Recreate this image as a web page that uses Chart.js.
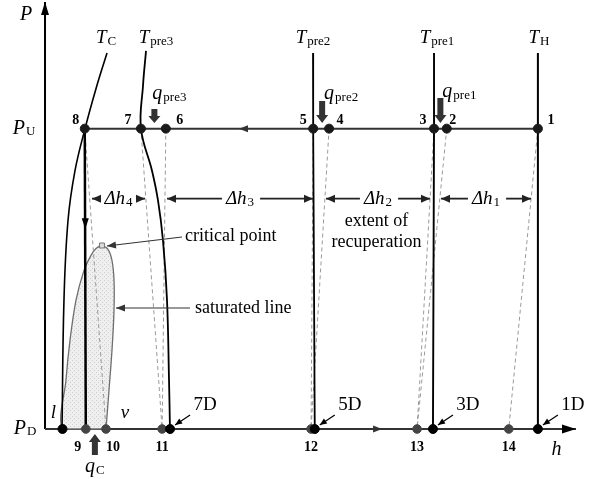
<!DOCTYPE html>
<html>
<head>
<meta charset="utf-8">
<script src="https://cdn.jsdelivr.net/npm/chart.js@4/dist/chart.umd.min.js"></script>
<style>
  html, body { margin: 0; padding: 0; background: #fff; }
  #wrap { width: 596px; height: 479px; }
</style>
</head>
<body>
<div id="wrap"><canvas id="ph" width="596" height="479"></canvas></div>
<script>
// P-h diagram (schematic units: h 0..100, P with P_D = 0 and P_U = 10)
const hMax = 100;
const pMax = 14.1;
const pU = 10;
const pD = 0;

// state points on the upper pressure line
const upperStates = ['1', '2', '3', '4', '5', '6', '7', '8'];
const upperH = [93.0, 75.8, 73.4, 53.6, 50.6, 22.8, 18.1, 7.5];
// state points on the lower pressure line
const lowerStates = ['9', '10', '11', '12', '13', '14'];
const lowerH = [7.7, 11.5, 22.1, 50.2, 70.2, 87.5];
const dischargeStates = ['7D', '5D', '3D', '1D'];
const dischargeH = [23.6, 50.9, 73.2, 93.0];
const liquidH = 3.3;

// isotherms
const tcH = [11.70, 9.62, 7.55, 5.66, 4.34, 3.58, 3.21];
const tcP = [12.52, 11.33, 10, 8.60, 6.94, 4.29, 0];
const tpre3H = [19.06, 18.49, 18.11, 20.19, 21.32, 22.26, 23.02, 23.40, 23.58];
const tpre3P = [12.59, 11.43, 10, 8.60, 7.61, 6.28, 4.29, 1.63, 0];
const isoTopP = 12.52;
const tpre2H = [50.57, 50.6, 50.9];
const tpre1H = [73.4, 73.4, 73.2];
const thH = [93.0, 93.0, 93.0];

// expansion lines (from upper state to lower state)
const expansionPairs = [['8', '10'], ['7', '11'], ['6', '11'], ['5', '12'], ['4', '12'], ['3', '13'], ['2', '13'], ['1', '14']];

// saturation dome
const domeH = [11.51, 12.08, 12.64, 13.02, 13.02, 12.64, 11.89, 10.75, 9.62, 8.68, 7.36, 5.85, 4.72, 3.96, 3.40, 11.51];
const domeP = [0, 1.30, 2.62, 3.95, 4.95, 5.61, 5.98, 6.10, 6.01, 5.78, 5.28, 4.29, 2.96, 1.63, 0, 0];
const critH = 10.75;
const critP = 6.11;

// enthalpy differences
const deltaNames = ['4', '3', '2', '1'];
const deltaFrom = [8.87, 23.02, 53.02, 74.72];
const deltaTo = [18.87, 50.57, 72.64, 91.70];
const deltaP = 7.67;

const serif = '"Liberation Serif", "DejaVu Serif", serif';

function pts(hs, ps) {
    return hs.map((h, i) => ({ x: h, y: ps[i] }));
}
function hOf(name) {
    let i = upperStates.indexOf(name);
    if (i >= 0) return { x: upperH[i], y: pU };
    i = lowerStates.indexOf(name);
    return { x: lowerH[i], y: pD };
}

// stipple pattern for the two-phase region
const patCanvas = document.createElement('canvas');
patCanvas.width = 4; patCanvas.height = 4;
const pctx = patCanvas.getContext('2d');
pctx.fillStyle = '#efefef';
pctx.fillRect(0, 0, 4, 4);
pctx.fillStyle = '#cdcdcd';
pctx.fillRect(0, 0, 1, 1);
pctx.fillRect(2, 2, 1, 1);
const ctx = document.getElementById('ph').getContext('2d');
const stipple = ctx.createPattern(patCanvas, 'repeat');

const lineDs = (data, color, width, extra) => Object.assign({
    data: data, showLine: true, borderColor: color, borderWidth: width,
    pointRadius: 0, fill: false, clip: false, tension: 0
}, extra || {});

const datasets = [];

// points first (lowest order = on top)
datasets.push({
    data: upperH.map(h => ({ x: h, y: pU })),
    pointRadius: 4.5, backgroundColor: '#1a1a1a', borderColor: '#1a1a1a', clip: false, order: 0
});
datasets.push({
    data: lowerH.map(h => ({ x: h, y: pD })),
    pointRadius: 4.3, backgroundColor: '#444', borderColor: '#444', clip: false, order: 1
});
datasets.push({
    data: dischargeH.map(h => ({ x: h, y: pD })).concat([{ x: liquidH, y: pD }]),
    pointRadius: 4.5, backgroundColor: '#000', borderColor: '#000', clip: false, order: 0
});
datasets.push({
    data: [{ x: critH, y: critP }],
    pointStyle: 'rect', pointRadius: 3.5, backgroundColor: '#ddd', borderColor: '#777', borderWidth: 1, clip: false, order: 0
});

// upper pressure line and 8 -> 9
datasets.push(lineDs([{ x: upperH[7], y: pU }, { x: upperH[0], y: pU }], '#333', 2, { order: 3 }));
datasets.push(lineDs([{ x: upperH[7], y: pU }, { x: lowerH[0], y: pD }], '#000', 2.5, { order: 3 }));

// isotherms
datasets.push(lineDs(pts(tcH, tcP), '#000', 1.6, { tension: 0.4, order: 4 }));
datasets.push(lineDs(pts(tpre3H, tpre3P), '#000', 1.8, { tension: 0.4, order: 4 }));
datasets.push(lineDs(pts(tpre2H, [isoTopP, pU, pD]), '#000', 1.8, { order: 4 }));
datasets.push(lineDs(pts(tpre1H, [isoTopP, pU, pD]), '#000', 1.9, { order: 4 }));
datasets.push(lineDs(pts(thH, [isoTopP, pU, pD]), '#000', 2, { order: 4 }));

// expansion lines
expansionPairs.forEach(pair => {
    datasets.push(lineDs([hOf(pair[0]), hOf(pair[1])], '#9a9a9a', 1, { borderDash: [4, 3], order: 6 }));
});

// dome
datasets.push(lineDs(pts(domeH, domeP), '#6e6e6e', 1.3, {
    fill: 'shape', backgroundColor: stipple, tension: 0.3, order: 9
}));

function arrowHead(c, x, y, ang, len, half) {
    c.beginPath();
    c.moveTo(x, y);
    c.lineTo(x - len * Math.cos(ang) + half * Math.sin(ang), y - len * Math.sin(ang) - half * Math.cos(ang));
    c.lineTo(x - len * Math.cos(ang) - half * Math.sin(ang), y - len * Math.sin(ang) + half * Math.cos(ang));
    c.closePath();
    c.fill();
}
function arrowLine(c, x1, y1, x2, y2, lw, len, half) {
    c.lineWidth = lw;
    c.beginPath();
    c.moveTo(x1, y1);
    c.lineTo(x2, y2);
    c.stroke();
    arrowHead(c, x2, y2, Math.atan2(y2 - y1, x2 - x1), len, half);
}
function blockArrow(c, x, y1, y2, shaft, head, headLen) {
    // y1 tail, y2 tip (vertical)
    const d = y2 > y1 ? 1 : -1;
    const yb = y2 - d * headLen;
    c.beginPath();
    c.moveTo(x - shaft / 2, y1);
    c.lineTo(x + shaft / 2, y1);
    c.lineTo(x + shaft / 2, yb);
    c.lineTo(x + head / 2, yb);
    c.lineTo(x, y2);
    c.lineTo(x - head / 2, yb);
    c.lineTo(x - shaft / 2, yb);
    c.closePath();
    c.fill();
}
// main text with subscript, centred at cx
function subText(c, main, sub, cx, cy, size, italicMain, subSize, subDy) {
    const mf = (italicMain ? 'italic ' : '') + size + 'px ' + serif;
    const sf = subSize + 'px ' + serif;
    c.font = mf;
    const w1 = c.measureText(main).width;
    c.font = sf;
    const w2 = c.measureText(sub).width;
    const x0 = cx - (w1 + w2 + 1) / 2;
    c.textAlign = 'left';
    c.textBaseline = 'middle';
    c.font = mf;
    c.fillText(main, x0, cy);
    c.font = sf;
    c.fillText(sub, x0 + w1 + 1, cy + subDy);
    return w1 + w2 + 1;
}

const annotations = {
    id: 'annotations',
    beforeDatasetsDraw(chart) {
        const c = chart.ctx, xs = chart.scales.x, ys = chart.scales.y;
        const x0 = xs.getPixelForValue(0), y0 = ys.getPixelForValue(pD);
        c.save();
        c.fillStyle = '#000';
        c.strokeStyle = '#000';
        // P axis
        arrowLine(c, x0, y0, x0, 2, 2, 13, 4);
        // h axis (lower pressure line)
        c.strokeStyle = '#333';
        c.fillStyle = '#000';
        arrowLine(c, x0, y0, chart.chartArea.right + 1, y0, 2, 14, 4.5);
        c.restore();
    },
    afterDatasetsDraw(chart) {
        const c = chart.ctx, xs = chart.scales.x, ys = chart.scales.y;
        const X = v => xs.getPixelForValue(v), Y = v => ys.getPixelForValue(v);
        c.save();
        c.fillStyle = '#000';
        c.strokeStyle = '#000';

        // flow arrows along the lines
        c.fillStyle = '#333';
        arrowHead(c, X(36.6), Y(pU), Math.PI, 9, 3.5);
        arrowHead(c, X(63.6), Y(pD), 0, 9, 3.5);
        c.fillStyle = '#000';
        arrowHead(c, X(upperH[7] + 0.1), Y(6.65), Math.PI / 2, 11, 3.5);

        // axis labels
        c.fillStyle = '#000';
        c.textAlign = 'center';
        c.textBaseline = 'middle';
        c.font = 'italic 20px ' + serif;
        c.fillText('P', 26, 15);
        c.fillText('h', X(96.5), Y(pD) + 21);
        subText(c, 'P', 'U', 24, Y(pU), 20, true, 13, 3);
        subText(c, 'P', 'D', 25, Y(pD), 20, true, 13, 3);

        // isotherm labels
        const topY = 38;
        subText(c, 'T', 'C', X(tcH[0]) - 1, topY, 19, true, 13, 4);
        subText(c, 'T', 'pre3', X(tpre3H[0]) + 10, topY, 19, true, 13, 4);
        subText(c, 'T', 'pre2', X(tpre2H[0]), topY, 19, true, 13, 4);
        subText(c, 'T', 'pre1', X(tpre1H[0]) + 3, topY, 19, true, 13, 4);
        subText(c, 'T', 'H', X(thH[0]) + 1, topY, 19, true, 13, 4);

        // heat input arrows
        c.fillStyle = '#333';
        const q3x = (X(upperH[6]) + X(upperH[5])) / 2 + 1;
        const q2x = (X(upperH[4]) + X(upperH[3])) / 2 + 1;
        const q1x = (X(upperH[2]) + X(upperH[1])) / 2;
        blockArrow(c, q3x, 109, 123, 6, 12, 7);
        blockArrow(c, q2x, 101, 123, 6, 12, 8);
        blockArrow(c, q1x, 98, 123, 6, 12, 8);
        const qcx = (X(lowerH[0]) + X(lowerH[1])) / 2 - 1;
        blockArrow(c, qcx, 455, 434, 6, 12, 8);
        c.fillStyle = '#000';
        subText(c, 'q', 'pre3', q3x + 15, 94, 20, true, 13, 4);
        subText(c, 'q', 'pre2', q2x + 19, 94, 20, true, 13, 4);
        subText(c, 'q', 'pre1', q1x + 19, 92, 20, true, 13, 4);
        subText(c, 'q', 'C', qcx, 467, 20, true, 13, 4);

        // state numbers
        const upperDx = [13, 6, -11, 11, -10, 14, -13, -9];
        c.font = 'bold 14px ' + serif;
        c.textAlign = 'center';
        c.textBaseline = 'middle';
        upperStates.forEach((s, i) => c.fillText(s, X(upperH[i]) + upperDx[i], Y(pU) - 8));
        const lowerDx = [-8, 7, 0, 0, 0, 0];
        lowerStates.forEach((s, i) => c.fillText(s, X(lowerH[i]) + lowerDx[i], Y(pD) + 18));

        // discharge labels with pointers
        c.font = '19px ' + serif;
        dischargeStates.forEach((s, i) => {
            const px = X(dischargeH[i]), py = Y(pD);
            c.fillText(s, px + 35, py - 24);
            arrowLine(c, px + 20, py - 14, px + 5, py - 4, 1.3, 7, 3);
        });
        c.font = 'italic 19px ' + serif;
        c.fillText('l', X(liquidH) - 9, Y(pD) - 16);
        c.fillText('v', X(lowerH[1]) + 19, Y(pD) - 16);

        // delta h spans
        c.strokeStyle = '#222';
        c.fillStyle = '#222';
        deltaNames.forEach((n, i) => {
            const L = X(deltaFrom[i]), R = X(deltaTo[i]), yy = Y(deltaP);
            const cx = (L + R) / 2;
            c.fillStyle = '#000';
            const w = subText(c, 'Δh', n, cx, yy, 19, true, 13, 4);
            c.fillStyle = '#222';
            arrowLine(c, cx - w / 2 - 4, yy, L, yy, 1.8, 9, 4);
            arrowLine(c, cx + w / 2 + 6, yy, R, yy, 1.8, 9, 4);
        });

        // text annotations
        c.fillStyle = '#000';
        c.font = '18px ' + serif;
        c.textAlign = 'center';
        const midR = (X(upperH[3]) + X(upperH[2])) / 2 - 5;
        c.fillText('extent of', midR, Y(deltaP) + 23);
        c.fillText('recuperation', midR, Y(deltaP) + 44);

        c.textAlign = 'left';
        c.fillText('critical point', 185, 236);
        c.fillText('saturated line', 195, 308);
        c.strokeStyle = '#333';
        c.fillStyle = '#333';
        arrowLine(c, 182, 237, X(critH) + 5, Y(critP) + 0.5, 1.2, 9, 3.5);
        arrowLine(c, 190, 308, 116, 308, 1.2, 9, 3.5);

        c.restore();
    }
};

new Chart(ctx, {
    type: 'scatter',
    data: { datasets: datasets },
    options: {
        responsive: false,
        animation: false,
        layout: { padding: { left: 45, right: 21, top: 5, bottom: 50 } },
        scales: {
            x: { type: 'linear', min: 0, max: hMax, display: false },
            y: { type: 'linear', min: 0, max: pMax, display: false }
        },
        plugins: {
            legend: { display: false },
            tooltip: { enabled: false }
        }
    },
    plugins: [annotations]
});
</script>
</body>
</html>
